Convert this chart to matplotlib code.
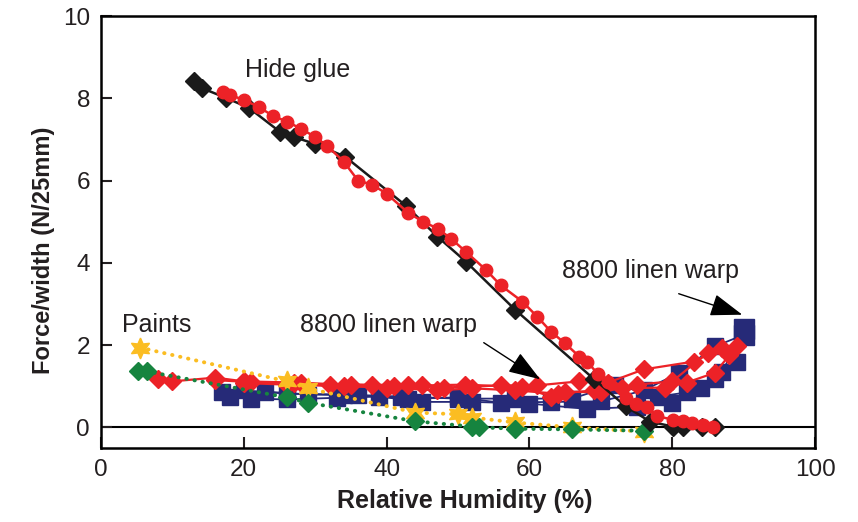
import matplotlib.pyplot as plt

plt.rcParams['font.family'] = ['Liberation Sans', 'DejaVu Sans']

# Hide glue (black diamonds)
glue_black_x = [13.0, 14.1, 17.5, 20.7, 25.1, 27.0, 30.0, 34.2, 42.7, 47.1, 51.1, 58.0, 69.0, 73.5, 76.9, 80.1, 81.5, 84.2, 86.0]
glue_black_y = [8.42, 8.25, 8.01, 7.77, 7.18, 7.06, 6.89, 6.58, 5.39, 4.64, 4.03, 2.86, 1.18, 0.51, 0.14, 0.02, 0.01, 0.0, 0.0]

# Hide glue (red circles)
glue_red_x = [17.1, 18.1, 20.0, 22.1, 24.1, 26.1, 28.0, 30.0, 31.7, 34.0, 36.0, 38.0, 40.0, 43.0, 45.1, 47.2,
              49.0, 51.1, 53.9, 56.0, 59.0, 61.1, 63.0, 65.0, 67.0, 68.1, 69.6, 71.0, 73.5, 74.9, 76.5, 77.9,
              80.1, 81.5, 82.8, 84.3, 85.7]
glue_red_y = [8.16, 8.08, 7.96, 7.79, 7.57, 7.43, 7.26, 7.06, 6.84, 6.46, 6.00, 5.90, 5.68, 5.22, 5.00, 4.83,
              4.59, 4.27, 3.83, 3.45, 3.06, 2.69, 2.33, 2.04, 1.72, 1.60, 1.29, 1.10, 0.72, 0.58, 0.49, 0.27,
              0.19, 0.15, 0.10, 0.05, 0.02]

# 8800 linen warp (blue squares)
warp_b1_x = [17, 21, 26, 33, 39, 45, 52, 60, 68, 75, 80, 84, 87, 90]
warp_b1_y = [0.85, 0.70, 0.68, 0.72, 0.75, 0.62, 0.62, 0.58, 0.45, 0.50, 0.60, 0.95, 1.35, 2.40]
warp_b2_x = [18, 23, 29, 36, 43, 50, 56, 63, 70, 76, 81, 86, 90]
warp_b2_y = [0.75, 0.87, 0.80, 0.78, 0.70, 0.73, 0.60, 0.62, 0.63, 0.90, 1.33, 1.97, 2.25]
warp_b3_x = [20, 26, 34, 42, 50, 58, 66, 72, 78, 82, 86, 89]
warp_b3_y = [0.90, 0.82, 0.80, 0.75, 0.70, 0.70, 0.70, 1.04, 0.75, 0.85, 1.17, 1.60]

# 8800 linen warp (red diamonds)
warp_r1_x = [8, 10, 16, 20, 27, 32, 38, 43, 48, 56, 61, 67, 71, 76, 83, 87]
warp_r1_y = [1.17, 1.12, 1.21, 1.12, 1.09, 1.04, 1.04, 1.02, 0.97, 1.02, 1.02, 1.12, 1.09, 1.41, 1.60, 1.94]
warp_r2_x = [16, 21, 28, 35, 41, 45, 51, 59, 63, 65, 70, 75, 80, 85, 88]
warp_r2_y = [1.15, 1.10, 1.08, 1.04, 1.00, 1.02, 1.04, 0.98, 0.75, 0.87, 0.85, 1.04, 1.12, 1.82, 1.77]
warp_r3_x = [20, 26, 34, 40, 47, 52, 58, 64, 69, 73, 79, 82, 86, 89]
warp_r3_y = [1.08, 1.04, 1.00, 0.97, 0.90, 0.95, 0.90, 0.82, 0.90, 0.95, 0.97, 1.09, 1.33, 1.97]

# Paints
paint_yellow_x = [5.5, 26, 29, 44, 50, 52, 58, 66, 76]
paint_yellow_y = [1.94, 1.12, 0.95, 0.36, 0.32, 0.24, 0.12, 0.0, -0.1]
paint_green_x = [5.2, 6.4, 26, 29, 44, 52, 53, 58, 66, 76]
paint_green_y = [1.38, 1.36, 0.73, 0.60, 0.15, 0.02, 0.0, -0.03, -0.05, -0.08]

red = '#ec2227'
navy = '#262a78'
yellow = '#fbbd22'
green = '#16843f'
ink = '#231f20'

fig = plt.figure(figsize=(8.58, 5.22), dpi=100)
ax = fig.add_axes([0.1177, 0.1418, 0.8323, 0.8275])

blue_sets = [(warp_b1_x, warp_b1_y), (warp_b2_x, warp_b2_y), (warp_b3_x, warp_b3_y)]
for x, y in blue_sets:
    ax.plot(x, y, color=navy, lw=1.3, marker='s', ms=11, mec=navy, zorder=2)
# last readings at the highest humidity are drawn with a larger symbol
ax.plot([x[-1] for x, _ in blue_sets[:2]], [y[-1] for _, y in blue_sets[:2]],
        ls='none', marker='s', ms=15, color=navy, zorder=2)

for x, y in [(warp_r1_x, warp_r1_y), (warp_r2_x, warp_r2_y), (warp_r3_x, warp_r3_y)]:
    ax.plot(x, y, color=red, lw=1.6, marker='D', ms=9, mec=red, zorder=3)

dots = dict(lw=2.8, ls=(0, (0.1, 2.0)), dash_capstyle='round', zorder=4)
ax.plot(paint_yellow_x, paint_yellow_y, color=yellow, marker=(6, 1, 0), ms=15, mec=yellow, **dots)
ax.plot(paint_green_x, paint_green_y, color=green, marker='D', ms=9, mec=green, **dots)

ax.plot(glue_black_x, glue_black_y, color='#1a1a1a', lw=1.8, marker='D', ms=9, zorder=5)
ax.plot(glue_red_x, glue_red_y, color=red, lw=1.8, marker='o', ms=9, mec=red, zorder=6)

ax.axhline(0, color='black', lw=1.5, zorder=1)

ax.text(20.2, 8.7, 'Hide glue', fontsize=18, va='center', ha='left', color=ink)
ax.text(64.6, 3.79, '8800 linen warp', fontsize=18, va='center', ha='left', color=ink)
ax.text(27.9, 2.5, '8800 linen warp', fontsize=18, va='center', ha='left', color=ink)
ax.text(3.0, 2.5, 'Paints', fontsize=18, va='center', ha='left', color=ink)

arrow_style = dict(arrowstyle='-|>,head_length=2.0,head_width=0.7', color='black', lw=1.0,
                   shrinkA=0, shrinkB=0)
ax.annotate('', xy=(89.8, 2.74), xytext=(80.9, 3.25), arrowprops=arrow_style, zorder=7)
ax.annotate('', xy=(61.5, 1.17), xytext=(53.6, 2.06), arrowprops=arrow_style, zorder=7)

ax.set_xlim(0, 100)
ax.set_ylim(-0.5, 10)
ax.set_xticks([0, 20, 40, 60, 80, 100])
ax.set_yticks([0, 2, 4, 6, 8, 10])
ax.tick_params(direction='in', length=8, width=1.5, labelsize=17.5, pad=8, colors=ink)
for s in ax.spines.values():
    s.set_linewidth(1.8)

ax.set_xlabel('Relative Humidity (%)', fontsize=18, fontweight='bold', color=ink)
ax.set_ylabel('Force/width (N/25mm)', fontsize=17, fontweight='bold', color=ink)
ax.xaxis.set_label_coords(0.51, -0.095)
ax.yaxis.set_label_coords(-0.064, 0.458)

fig.savefig('out.png', dpi=100)
